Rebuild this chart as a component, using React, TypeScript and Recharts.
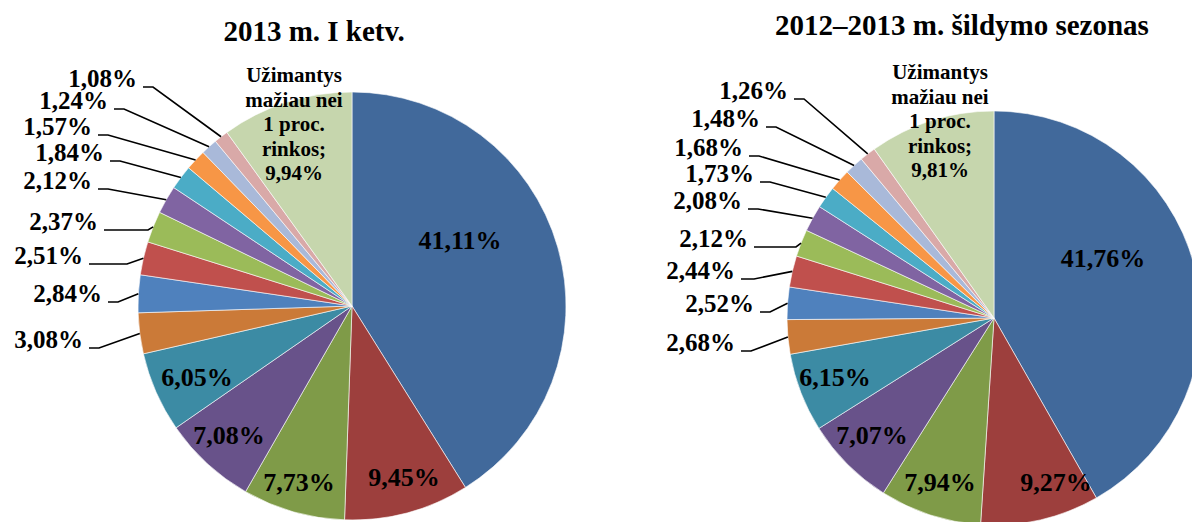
import React from 'react'
import { PieChart, Pie, Cell } from 'recharts'

// shares of the market, clockwise from 12 o'clock, last slice = all small suppliers
const sliceNames = [
  'Tiekėjas 1', 'Tiekėjas 2', 'Tiekėjas 3', 'Tiekėjas 4', 'Tiekėjas 5',
  'Tiekėjas 6', 'Tiekėjas 7', 'Tiekėjas 8', 'Tiekėjas 9', 'Tiekėjas 10',
  'Tiekėjas 11', 'Tiekėjas 12', 'Tiekėjas 13', 'Tiekėjas 14', 'Kiti',
]
const q1Values = [41.11, 9.45, 7.73, 7.08, 6.05, 3.08, 2.84, 2.51, 2.37, 2.12, 1.84, 1.57, 1.24, 1.08, 9.94]
const seasonValues = [41.76, 9.27, 7.94, 7.07, 6.15, 2.68, 2.52, 2.44, 2.12, 2.08, 1.73, 1.68, 1.48, 1.26, 9.81]
const titles = ['2013 m. I ketv.', '2012–2013 m. šildymo sezonas']
const otherLines = ['Užimantys', 'mažiau nei', '1 proc.', 'rinkos;']

const colors = [
  '#41699B', '#9D3F3D', '#7F9B48', '#68528A', '#3C8BA4',
  '#CB7A38', '#4F81BD', '#C0504D', '#9BBB59', '#8064A2',
  '#4BACC6', '#F79646', '#A9B9D9', '#D9A9A8', '#C6D6AD',
]

const q1Data = sliceNames.map((name, i) => ({ name, value: q1Values[i] }))
const seasonData = sliceNames.map((name, i) => ({ name, value: seasonValues[i] }))

const RAD = Math.PI / 180
const FONT = '"Liberation Serif", "Times New Roman", serif'

// label placement, relative to the pie centre
const q1Layout = {
  cx: 352, cy: 306, r: 214,
  inside: [[108, -66], [52, 171], [-53, 176], [-123, 129], [-155, 71]],
  // [text right x, leader y, elbow x?]
  outside: [
    [-269, 42], [-250, -4], [-269, -42, -225], [-254, -76, -204], [-260, -117],
    [-248, -145], [-260, -171], [-244, -197], [-215, -219],
  ],
  other: [-58, -231],
}
const seasonLayout = {
  cx: 994, cy: 318, r: 207,
  inside: [[109, -60], [62, 164], [-54, 164], [-122, 117], [-159, 59]],
  outside: [
    [-259, 33], [-240, -6], [-259, -39, -240], [-246, -71, -198], [-252, -109],
    [-240, -136], [-251, -162], [-234, -191], [-206, -219],
  ],
  other: [-54, -246],
}

const pct = (v: number) => v.toFixed(2).replace('.', ',') + '%'

const bold = { fontFamily: FONT, fontWeight: 700, fill: '#000' }

function makeLabel(layout: typeof q1Layout, count: number) {
  return (props: any) => {
    const { cx, cy, midAngle, outerRadius, index, value } = props
    const text = pct(value)
    if (index < layout.inside.length) {
      const [dx, dy] = layout.inside[index]
      return (
        <text x={cx + dx} y={cy + dy} textAnchor="middle" dominantBaseline="central"
          style={{ ...bold, fontSize: 26 }}>{text}</text>
      )
    }
    if (index === count - 1) {
      const [dx, dy] = layout.other
      const lines = [...otherLines, text]
      return (
        <g>
          {lines.map((l, i) => (
            <text key={i} x={cx + dx} y={cy + dy + i * 24.5} textAnchor="middle"
              dominantBaseline="central" style={{ ...bold, fontSize: 21 }}>{l}</text>
          ))}
        </g>
      )
    }
    const o = layout.outside[index - layout.inside.length]
    const ex = cx + outerRadius * Math.cos(-midAngle * RAD)
    const ey = cy + outerRadius * Math.sin(-midAngle * RAD)
    const tx = cx + o[0]
    const ly = cy + o[1]
    const elbow = o[2] !== undefined ? cx + o[2] : tx + 16
    return (
      <g>
        <polyline points={`${tx + 6},${ly} ${elbow},${ly} ${ex},${ey}`}
          fill="none" stroke="#000" strokeWidth={1.6} />
        <text x={tx} y={ly - 9} textAnchor="end" dominantBaseline="central"
          style={{ ...bold, fontSize: 25 }}>{text}</text>
      </g>
    )
  }
}

export default function App() {
  return (
    <div style={{ position: 'absolute', left: 0, top: 0, width: 1192, height: 522, background: '#fff' }}>
      <PieChart width={1192} height={522} margin={{ top: 0, right: 0, bottom: 0, left: 0 }}>
        <text x={314} y={31} textAnchor="middle" dominantBaseline="central"
          style={{ ...bold, fontSize: 29 }}>{titles[0]}</text>
        <text x={962} y={25} textAnchor="middle" dominantBaseline="central"
          style={{ ...bold, fontSize: 29 }}>{titles[1]}</text>
        <Pie
          data={q1Data}
          dataKey="value"
          nameKey="name"
          cx={q1Layout.cx}
          cy={q1Layout.cy}
          outerRadius={q1Layout.r}
          startAngle={90}
          endAngle={-270}
          stroke="#ffffff"
          strokeWidth={0.6}
          labelLine={false}
          label={makeLabel(q1Layout, q1Data.length)}
          isAnimationActive={false}
        >
          {q1Data.map((d, i) => <Cell key={d.name} fill={colors[i]} />)}
        </Pie>
        <Pie
          data={seasonData}
          dataKey="value"
          nameKey="name"
          cx={seasonLayout.cx}
          cy={seasonLayout.cy}
          outerRadius={seasonLayout.r}
          startAngle={90}
          endAngle={-270}
          stroke="#ffffff"
          strokeWidth={0.6}
          labelLine={false}
          label={makeLabel(seasonLayout, seasonData.length)}
          isAnimationActive={false}
        >
          {seasonData.map((d, i) => <Cell key={d.name} fill={colors[i]} />)}
        </Pie>
      </PieChart>
    </div>
  )
}
